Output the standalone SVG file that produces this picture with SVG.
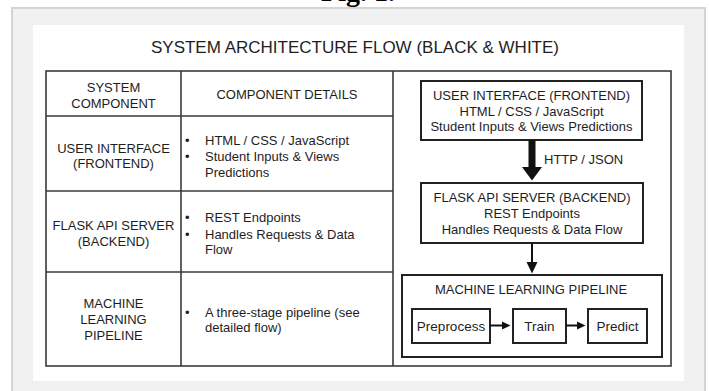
<svg xmlns="http://www.w3.org/2000/svg" width="709" height="391" viewBox="0 0 709 391">
  <defs>
    <style>
      .t { font-family: "Liberation Sans", Arial, sans-serif; font-size: 13px; fill: #1e1e1e; }
      .c { text-anchor: middle; }
      .title { font-family: "Liberation Sans", Arial, sans-serif; font-size: 17px; fill: #1e1e1e; text-anchor: middle; }
      .fig { font-family: "Liberation Serif", "Times New Roman", serif; font-size: 28px; font-weight: bold; fill: #000; text-anchor: middle; }
      .grid { stroke: #3a3a3a; stroke-width: 1.6; fill: none; }
      .box { stroke: #222; stroke-width: 2; fill: #fff; }
      .conn { stroke: #111; stroke-width: 2; fill: none; }
      .head { fill: #111; stroke: none; }
    </style>
  </defs>

  <rect x="0" y="0" width="709" height="391" fill="#ffffff"/>
  <text class="fig" x="358" y="1">Fig. 1.</text>
  <rect x="12" y="8" width="693" height="392" fill="#f1f1f1" stroke="#d4d4d4" stroke-width="2"/>
  <rect x="33" y="25" width="651" height="356" fill="#ffffff"/>

  <text class="title" x="355" y="53">SYSTEM ARCHITECTURE FLOW (BLACK &amp; WHITE)</text>

  <g id="table">
    <rect class="grid" x="46" y="71" width="625" height="295"/>
    <line class="grid" x1="181" y1="71" x2="181" y2="366"/>
    <line class="grid" x1="393" y1="71" x2="393" y2="366"/>
    <line class="grid" x1="46" y1="116" x2="393" y2="116"/>
    <line class="grid" x1="46" y1="191" x2="393" y2="191"/>
    <line class="grid" x1="46" y1="272" x2="393" y2="272"/>
  </g>

  <g id="table-header">
    <text class="t c" x="113.5" y="92">SYSTEM</text>
    <text class="t c" x="113.5" y="108">COMPONENT</text>
    <text class="t c" x="287" y="99">COMPONENT DETAILS</text>
  </g>

  <g id="row-ui">
    <text class="t c" x="113.5" y="153">USER INTERFACE</text>
    <text class="t c" x="113.5" y="168">(FRONTEND)</text>
    <text class="t" x="185" y="145">•</text>
    <text class="t" x="205" y="145">HTML / CSS / JavaScript</text>
    <text class="t" x="185" y="161">•</text>
    <text class="t" x="205" y="161">Student Inputs &amp; Views</text>
    <text class="t" x="205" y="177">Predictions</text>
  </g>

  <g id="row-flask">
    <text class="t c" x="113.5" y="230">FLASK API SERVER</text>
    <text class="t c" x="113.5" y="246">(BACKEND)</text>
    <text class="t" x="185" y="222">•</text>
    <text class="t" x="205" y="222">REST Endpoints</text>
    <text class="t" x="185" y="239">•</text>
    <text class="t" x="205" y="239">Handles Requests &amp; Data</text>
    <text class="t" x="205" y="254">Flow</text>
  </g>

  <g id="row-ml">
    <text class="t c" x="113.5" y="308">MACHINE</text>
    <text class="t c" x="113.5" y="324">LEARNING</text>
    <text class="t c" x="113.5" y="340">PIPELINE</text>
    <text class="t" x="185" y="317">•</text>
    <text class="t" x="205" y="317">A three-stage pipeline (see</text>
    <text class="t" x="205" y="332">detailed flow)</text>
  </g>

  <g id="node-ui">
    <rect class="box" x="421" y="81" width="221" height="59"/>
    <text class="t c" x="531.5" y="100">USER INTERFACE (FRONTEND)</text>
    <text class="t c" x="531.5" y="115.5">HTML / CSS / JavaScript</text>
    <text class="t c" x="531.5" y="131">Student Inputs &amp; Views Predictions</text>
  </g>

  <g id="node-flask">
    <rect class="box" x="421" y="183" width="222" height="60"/>
    <text class="t c" x="532" y="202">FLASK API SERVER (BACKEND)</text>
    <text class="t c" x="532" y="218">REST Endpoints</text>
    <text class="t c" x="532" y="233.5">Handles Requests &amp; Data Flow</text>
  </g>

  <g id="node-ml">
    <rect class="box" x="402" y="275" width="260" height="82"/>
    <text class="t c" x="531" y="294">MACHINE LEARNING PIPELINE</text>
  </g>

  <g id="node-preprocess">
    <rect class="box" x="412" y="309" width="78" height="34"/>
    <text class="t c" x="451" y="331" style="font-size:13.5px">Preprocess</text>
  </g>
  <g id="node-train">
    <rect class="box" x="513" y="309" width="53" height="34"/>
    <text class="t c" x="539.5" y="331" style="font-size:13.5px">Train</text>
  </g>
  <g id="node-predict">
    <rect class="box" x="588" y="309" width="59" height="34"/>
    <text class="t c" x="617.5" y="331" style="font-size:13.5px">Predict</text>
  </g>

  <g id="connectors">
    <rect class="head" x="528.5" y="140" width="7" height="28"/>
    <polygon class="head" points="522,167 542,167 532,180.5"/>
    <text class="t" x="544" y="164">HTTP / JSON</text>

    <line class="conn" x1="532" y1="243" x2="532" y2="263"/>
    <polygon class="head" points="526.5,262 537.5,262 532,273.5"/>

    <line class="conn" x1="490" y1="325.5" x2="503" y2="325.5"/>
    <polygon class="head" points="502,321.5 510.5,325.5 502,329.5"/>

    <line class="conn" x1="566" y1="325.5" x2="578" y2="325.5"/>
    <polygon class="head" points="577,321.5 585.5,325.5 577,329.5"/>
  </g>
</svg>
